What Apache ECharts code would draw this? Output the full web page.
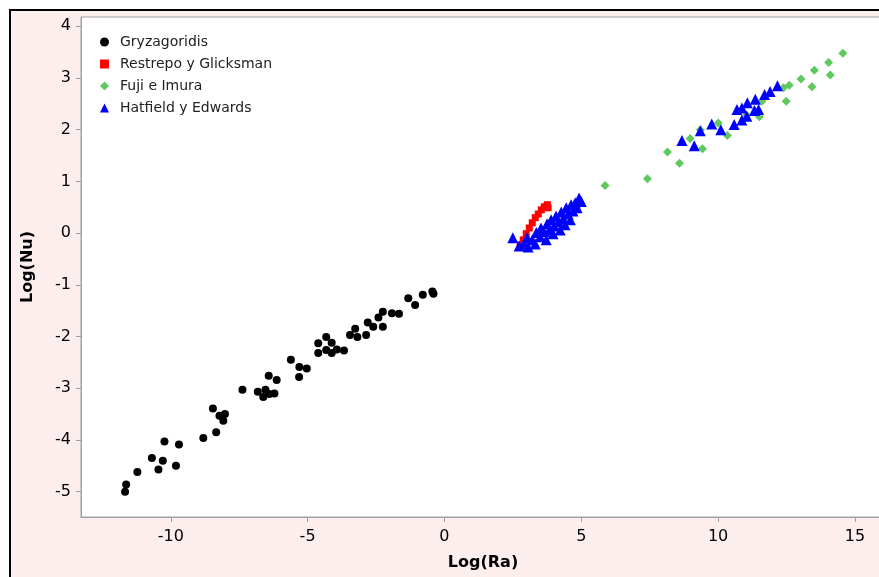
<!DOCTYPE html>
<html>
<head>
<meta charset="utf-8">
<script src="https://cdn.jsdelivr.net/npm/echarts@6/dist/echarts.min.js"></script>
<style>
html,body{margin:0;padding:0;background:#fff;width:879px;height:577px;overflow:hidden;}
#frame{position:absolute;left:9px;top:9px;width:870px;height:566px;background:#fdeeee;border-left:2px solid #000;border-top:2px solid #000;border-bottom:1px solid #999;}
#chart{position:absolute;left:0;top:0;width:885px;height:577px;}
</style>
</head>
<body>
<div id="frame"></div>
<div id="chart"></div>
<script>
// Data: [Log(Ra), Log(Nu)]
const gryzagoridis = [
  [-11.67,-5.00],[-11.63,-4.86],[-11.22,-4.62],[-10.45,-4.57],[-10.69,-4.35],[-10.29,-4.40],
  [-9.81,-4.50],[-10.23,-4.03],[-9.70,-4.09],[-8.81,-3.96],[-8.34,-3.85],[-8.46,-3.39],
  [-8.22,-3.53],[-8.02,-3.50],[-8.08,-3.63],[-7.38,-3.03],[-6.82,-3.07],[-6.54,-3.03],
  [-6.62,-3.17],[-6.40,-3.11],[-6.21,-3.10],[-6.42,-2.76],[-6.13,-2.84],[-5.31,-2.78],
  [-5.30,-2.59],[-5.03,-2.62],[-5.61,-2.45],[-4.61,-2.32],[-4.61,-2.13],[-4.32,-2.01],
  [-4.12,-2.12],[-4.32,-2.26],[-4.12,-2.32],[-3.93,-2.25],[-3.67,-2.27],[-3.45,-1.97],
  [-3.26,-1.85],[-3.18,-2.01],[-2.86,-1.97],[-2.80,-1.73],[-2.60,-1.81],[-2.41,-1.63],
  [-2.25,-1.52],[-2.25,-1.81],[-1.92,-1.55],[-1.66,-1.56],[-1.32,-1.26],[-1.07,-1.39],
  [-0.79,-1.19],[-0.40,-1.17],[-0.44,-1.13]
];
const restrepo = [
  [2.77,-0.23],[2.88,-0.13],[2.99,-0.01],[3.10,0.10],[3.21,0.20],[3.32,0.30],
  [3.43,0.37],[3.54,0.45],[3.65,0.51],[3.76,0.55],[3.79,0.49]
];
const fuji = [
  [5.87,0.92],[7.42,1.05],[8.15,1.57],[8.59,1.35],[8.98,1.83],[9.43,1.63],[9.35,2.00],
  [10.01,2.13],[10.34,1.89],[11.05,2.28],[11.51,2.25],[11.60,2.55],[12.49,2.55],[12.39,2.81],
  [12.60,2.86],[13.03,2.98],[13.43,2.83],[13.52,3.15],[14.04,3.30],[14.10,3.06],[14.56,3.48]
];
const hatfield = [
  [2.50,-0.09],[2.73,-0.25],[2.91,-0.21],[3.06,-0.27],[3.02,-0.09],[3.21,-0.13],[3.32,-0.21],
  [3.36,0.01],[3.50,-0.07],[3.53,0.10],[3.64,0.03],[3.72,-0.13],[3.75,0.18],[3.83,0.06],
  [3.90,0.26],[3.97,-0.01],[4.01,0.14],[4.08,0.33],[4.16,0.22],[4.23,0.06],[4.27,0.41],
  [4.34,0.28],[4.41,0.16],[4.45,0.49],[4.52,0.37],[4.60,0.26],[4.63,0.55],[4.70,0.43],
  [4.78,0.59],[4.85,0.49],[4.92,0.68],[5.00,0.61],
  [8.68,1.79],[9.13,1.69],[9.35,1.98],[9.77,2.11],[10.10,2.00],[10.59,2.10],[10.69,2.39],
  [10.87,2.42],[10.87,2.19],[11.05,2.26],[11.07,2.52],[11.36,2.59],[11.33,2.37],[11.48,2.39],
  [11.70,2.68],[11.90,2.74],[12.17,2.85]
];
const seriesNames = ['Gryzagoridis','Restrepo y Glicksman','Fuji e Imura','Hatfield y Edwards'];
const xTicks = [-10,-5,0,5,10,15];
const yTicks = [-5,-4,-3,-2,-1,0,1,2,3,4];
const xName = 'Log(Ra)';
const yName = 'Log(Nu)';

const font = 'DejaVu Sans';
const chart = echarts.init(document.getElementById('chart'), null, {renderer:'canvas'});
chart.setOption({
  backgroundColor: 'transparent',
  animation: false,
  grid: {left: 81, top: 17, right: 0, bottom: 60, show: true, backgroundColor: '#fff', borderColor: '#a0a0a0', borderWidth: 1},
  legend: {
    orient: 'vertical', left: 95, top: 29, itemWidth: 9, itemHeight: 9, itemGap: 6,
    textStyle: {fontFamily: font, fontSize: 14, color: '#222', lineHeight: 16, padding: [0,0,0,6]},
    data: [
      {name: seriesNames[0], icon: 'circle'},
      {name: seriesNames[1], icon: 'rect'},
      {name: seriesNames[2], icon: 'diamond'},
      {name: seriesNames[3], icon: 'triangle'}
    ]
  },
  xAxis: {
    type: 'value', min: -13.28, max: 16.1,
    name: xName, nameLocation: 'middle', nameGap: 38,
    nameTextStyle: {fontFamily: font, fontSize: 16, fontWeight: 'bold', color: '#000'},
    axisLine: {show: true, onZero: false, lineStyle: {color: '#a0a0a0'}},
    axisTick: {show: true, length: 5, customValues: xTicks, lineStyle: {color: '#a0a0a0'}},
    axisLabel: {customValues: xTicks, fontFamily: font, fontSize: 16, color: '#000', margin: 12},
    splitLine: {show: false}
  },
  yAxis: {
    type: 'value', min: -5.49, max: 4.18,
    name: yName, nameLocation: 'middle', nameGap: 45, nameRotate: 90,
    nameTextStyle: {fontFamily: font, fontSize: 16, fontWeight: 'bold', color: '#000'},
    axisLine: {show: true, onZero: false, lineStyle: {color: '#a0a0a0'}},
    axisTick: {show: true, length: 5, customValues: yTicks, lineStyle: {color: '#a0a0a0'}},
    axisLabel: {customValues: yTicks, fontFamily: font, fontSize: 16, color: '#000', margin: 10},
    splitLine: {show: false}
  },
  series: [
    {name: seriesNames[0], type: 'scatter', data: gryzagoridis, symbol: 'circle', symbolSize: 8, itemStyle: {color: '#000', opacity: 1}},
    {name: seriesNames[1], type: 'scatter', data: restrepo, symbol: 'rect', symbolSize: 7, itemStyle: {color: '#ff0000', opacity: 1}},
    {name: seriesNames[2], type: 'scatter', data: fuji, symbol: 'diamond', symbolSize: 9, itemStyle: {color: '#5ec95e', opacity: 1}},
    {name: seriesNames[3], type: 'scatter', data: hatfield, symbol: 'triangle', symbolSize: 11, itemStyle: {color: '#0000ff', opacity: 1}}
  ]
});
</script>
</body>
</html>
